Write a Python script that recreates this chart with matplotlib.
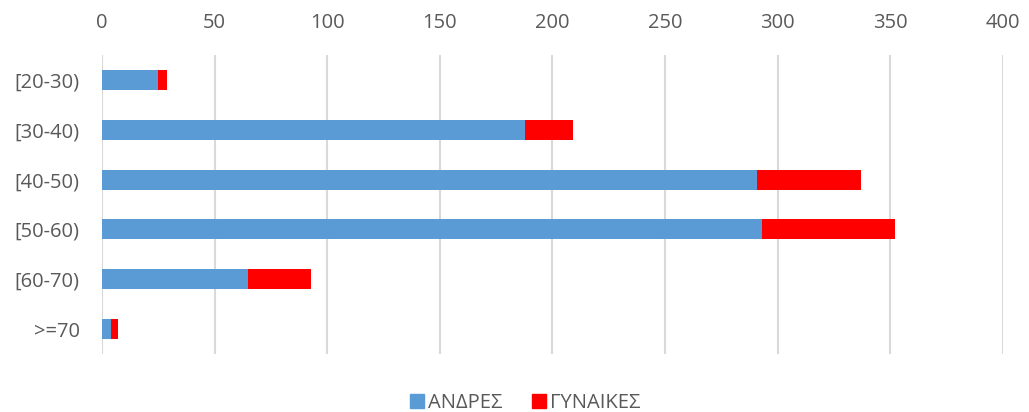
import matplotlib.pyplot as plt
import numpy as np
from matplotlib.lines import Line2D

plt.rcParams['font.family'] = ['Open Sans', 'DejaVu Sans']

# age groups, top to bottom
ages = ['[20-30)', '[30-40)', '[40-50)', '[50-60)', '[60-70)', '>=70']
men = [25, 188, 291, 293, 65, 4]
women = [4, 21, 46, 59, 28, 3]
xticks = [0, 50, 100, 150, 200, 250, 300, 350, 400]

blue = '#5B9BD5'
red = '#FF0000'
grey_text = '#595959'

fig = plt.figure(figsize=(10.29, 4.12), dpi=100)
ax = fig.add_axes([0.0991, 0.1408, 0.8756, 0.7257])

y = np.arange(len(ages))
ax.barh(y, men, height=0.4, color=blue, zorder=3)
ax.barh(y, women, left=men, height=0.4, color=red, zorder=3)

ax.set_xlim(0, 400)
ax.set_ylim(len(ages) - 0.5, -0.5)
ax.set_xticks(xticks)
ax.set_yticks(y)
ax.set_yticklabels(ages)
ax.xaxis.tick_top()
ax.tick_params(axis='both', length=0, labelsize=14.5, colors=grey_text)
ax.tick_params(axis='x', pad=16)
ax.tick_params(axis='y', pad=16)
ax.grid(axis='x', color='#D9D9D9', linewidth=1.5, zorder=0)
for s in ax.spines.values():
    s.set_visible(False)

handles = [Line2D([], [], marker='s', linestyle='none', markersize=9.5, color=blue),
           Line2D([], [], marker='s', linestyle='none', markersize=9.5, color=red)]
fig.legend(handles, ['ΑΝΔΡΕΣ', 'ΓΥΝΑΙΚΕΣ'], loc='center', bbox_to_anchor=(0.51, 0.022),
           ncol=2, frameon=False, fontsize=14.5, labelcolor=grey_text,
           handletextpad=0.15, columnspacing=1.4, handlelength=0.8)

fig.savefig('out.png', dpi=100)
